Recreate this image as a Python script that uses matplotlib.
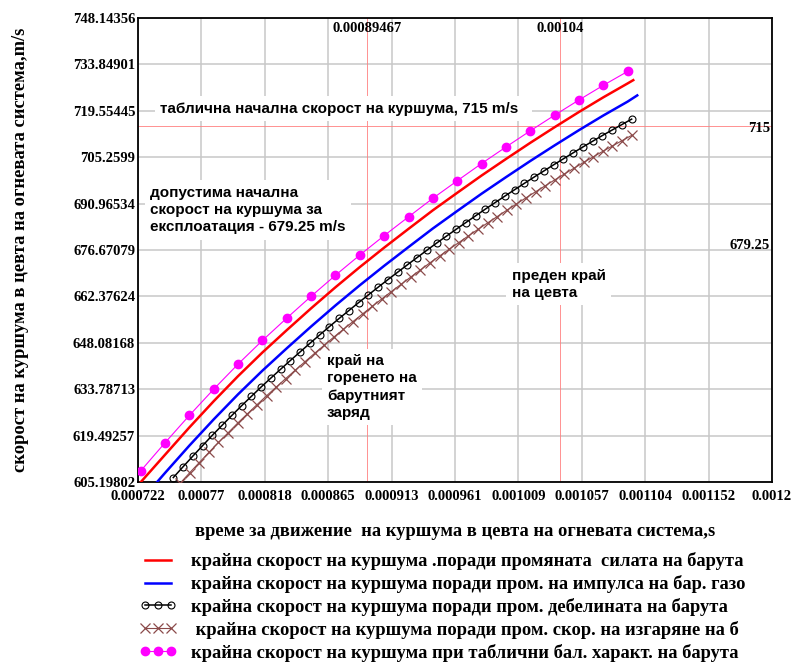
import matplotlib
matplotlib.use('Agg')
import matplotlib.pyplot as plt
import numpy as np

# time along the barrel, microseconds; velocity, m/s
t_table = [724.0, 742.4, 760.7, 779.1, 797.4, 815.8, 834.2, 852.5, 870.9, 889.2, 907.6,
           926.0, 944.3, 962.7, 981.0, 999.4, 1017.8, 1036.1, 1054.5, 1072.8, 1091.2]
v_table = [608.6, 617.3, 625.7, 633.8, 641.5, 648.8, 655.7, 662.4, 668.9, 675.1, 681.1,
           686.9, 692.6, 698.0, 703.3, 708.4, 713.4, 718.2, 722.9, 727.4, 731.7]

t_force = [723.5, 742.4, 760.7, 779.1, 797.4, 815.8, 834.2, 852.5, 870.9, 889.2, 907.6,
           926.0, 944.3, 962.7, 981.0, 999.4, 1017.8, 1036.1, 1054.5, 1072.8, 1091.2, 1095.4]
v_force = [604.9, 613.6, 622.0, 630.1, 637.8, 645.1, 652.0, 658.7, 665.2, 671.4, 677.4,
           683.2, 688.9, 694.3, 699.6, 704.7, 709.7, 714.5, 719.2, 723.7, 728.0, 729.0]

t_impulse = [736.0, 742.4, 760.7, 779.1, 797.4, 815.8, 834.2, 852.5, 870.9, 889.2, 907.6,
             926.0, 944.3, 962.7, 981.0, 999.4, 1017.8, 1036.1, 1054.5, 1072.8, 1091.2, 1098.4]
v_impulse = [605.0, 608.0, 616.4, 624.5, 632.2, 639.5, 646.4, 653.1, 659.6, 665.8, 671.8,
             677.6, 683.3, 688.7, 694.0, 699.1, 704.1, 708.9, 713.6, 718.1, 722.4, 724.3]

t_thick = [748.60, 755.95, 763.31, 770.66, 778.01, 785.37, 792.72, 800.07, 807.42, 814.78,
           822.13, 829.48, 836.84, 844.19, 851.54, 858.90, 866.25, 873.60, 880.95, 888.31,
           895.66, 903.01, 910.37, 917.72, 925.07, 932.43, 939.78, 947.13, 954.48, 961.84,
           969.19, 976.54, 983.90, 991.25, 998.60, 1005.96, 1013.31, 1020.66, 1028.01, 1035.37,
           1042.72, 1050.07, 1057.43, 1064.78, 1072.13, 1079.49, 1086.84, 1094.19]
v_thick = [606.56, 609.88, 613.16, 616.38, 619.58, 622.65, 625.69, 628.68, 631.56, 634.45,
           637.20, 639.92, 642.62, 645.26, 647.90, 650.49, 653.05, 655.57, 658.01, 660.46,
           662.83, 665.20, 667.54, 669.82, 672.10, 674.35, 676.59, 678.80, 680.92, 683.04,
           685.13, 687.21, 689.27, 691.28, 693.28, 695.25, 697.21, 699.14, 701.02, 702.92,
           704.76, 706.60, 708.41, 710.18, 711.94, 713.64, 715.32, 716.99]

t_burn = [753.70, 760.95, 768.19, 775.44, 782.68, 789.93, 797.17, 804.42, 811.66, 818.91,
          826.15, 833.40, 840.64, 847.89, 855.13, 862.38, 869.62, 876.87, 884.11, 891.36,
          898.60, 905.85, 913.09, 920.34, 927.58, 934.83, 942.07, 949.32, 956.56, 963.81,
          971.05, 978.30, 985.54, 992.79, 1000.03, 1007.28, 1014.52, 1021.77, 1029.01, 1036.26,
          1043.50, 1050.75, 1057.99, 1065.24, 1072.48, 1079.73, 1086.97, 1094.22]
v_burn = [604.79, 608.04, 611.19, 614.32, 617.38, 620.36, 623.35, 626.18, 629.00, 631.75,
          634.42, 637.08, 639.68, 642.26, 644.83, 647.33, 649.84, 652.24, 654.64, 657.00,
          659.31, 661.62, 663.88, 666.10, 668.32, 670.51, 672.71, 674.82, 676.89, 678.96,
          681.00, 683.03, 685.01, 686.96, 688.92, 690.84, 692.75, 694.62, 696.46, 698.29,
          700.09, 701.88, 703.65, 705.37, 707.08, 708.72, 710.37, 711.99]

x_ticklabels = ['0.000722', '0.00077', '0.000818', '0.000865', '0.000913', '0.000961',
                '0.001009', '0.001057', '0.001104', '0.001152', '0.0012']
y_ticklabels = ['605.19802', '619.49257', '633.78713', '648.08168', '662.37624', '676.67079',
                '690.96534', '705.2599', '719.55445', '733.84901', '748.14356']

t_burnout = 0.00089467   # end of powder burning
t_muzzle = 0.00104       # bullet leaves the barrel
v_table_ref = 715
v_allowed = 679.25

labels = ['крайна скорост на куршума .поради промяната  силата на барута',
          'крайна скорост на куршума поради пром. на импулса на бар. газо',
          'крайна скорост на куршума поради пром. дебелината на барута',
          ' крайна скорост на куршума поради пром. скор. на изгаряне на б',
          'крайна скорост на куршума при таблични бал. характ. на барута']

us = 1e-6
serif = ['Liberation Serif', 'DejaVu Serif']
sans = ['Liberation Sans', 'DejaVu Sans']

fig = plt.figure(figsize=(7.97, 6.63), dpi=100)
ax = fig.add_axes([138/797, 181/663, 634/797, 464/663])

l1, = ax.plot(np.array(t_force)*us, v_force, color='#ff0000', lw=1.8, zorder=4)
l2, = ax.plot(np.array(t_impulse)*us, v_impulse, color='#0000ff', lw=1.8, zorder=4)
l3, = ax.plot(np.array(t_thick)*us, v_thick, color='black', lw=1.1, marker='o', ms=5,
              mfc='none', mec='black', mew=0.8, zorder=4)
l4, = ax.plot(np.array(t_burn)*us, v_burn, color='#8b4a4a', lw=0.8, marker='x', ms=7,
              mec='#8b4a4a', mew=0.9, zorder=4)
l5, = ax.plot(np.array(t_table)*us, v_table, color='#ff00ff', lw=0.8, marker='o', ms=6,
              mfc='#ff00ff', mec='#ff00ff', zorder=5)

# reference lines
ax.axvline(t_burnout, color='#ff8080', lw=0.6, zorder=1)
ax.axvline(t_muzzle, color='#ff8080', lw=0.6, zorder=1)
ax.axhline(v_table_ref, color='#ff8080', lw=0.6, zorder=1)

xmin, xmax = 0.000722, 0.0012
ymin, ymax = float(y_ticklabels[0]), float(y_ticklabels[-1])
ax.set_xlim(xmin, xmax)
ax.set_ylim(ymin, ymax)
ax.set_xticks(np.linspace(xmin, xmax, len(x_ticklabels)))
ax.set_xticklabels(x_ticklabels)
ax.set_yticks([float(s) for s in y_ticklabels])
ax.set_yticklabels(y_ticklabels)
ax.tick_params(length=0, pad=6)
ax.tick_params(axis='y', pad=2)
for lab in ax.get_xticklabels() + ax.get_yticklabels():
    lab.set_family(serif)
    lab.set_fontweight('bold')
    lab.set_fontsize(10.5)

ax.grid(True, color='#c8c8c8', lw=1.1)
ax.set_axisbelow(True)
for s in ax.spines.values():
    s.set_linewidth(1.3)

# values of the reference lines
ax.text(t_burnout, ymax - 3.3, '0.00089467', ha='center', va='center',
        family=serif, fontweight='bold', fontsize=10.5)
ax.text(t_muzzle, ymax - 3.3, '0.00104', ha='center', va='center',
        family=serif, fontweight='bold', fontsize=10.5)
ax.text(xmax - 0.0000015, v_table_ref - 1.0, '715', ha='right', va='center',
        family=serif, fontweight='bold', fontsize=10.5)
ax.text(xmax - 0.0000015, v_allowed - 1.1, '679.25', ha='right', va='center',
        family=serif, fontweight='bold', fontsize=10.5)

box = dict(facecolor='white', edgecolor='none', boxstyle='square,pad=0.35')
ax.text(0.0007386, 720.2, 'таблична начална скорост на куршума, 715 m/s  ',
        ha='left', va='center', family=sans, fontweight='bold', fontsize=11,
        bbox=box, zorder=3)
ax.text(0.000731, 689.0, 'допустима начална\nскорост на куршума за\nексплоатация - 679.25 m/s',
        ha='left', va='center', family=sans, fontweight='bold', fontsize=11,
        linespacing=1.3, bbox=box, zorder=3)
ax.text(0.0008645, 634.5, 'край на\nгоренето на\nбарутният\nзаряд',
        ha='left', va='center', family=sans, fontweight='bold', fontsize=11,
        linespacing=1.3, bbox=box, zorder=3)
ax.text(0.0010037, 666.1, 'преден край\nна цевта',
        ha='left', va='center', family=sans, fontweight='bold', fontsize=11,
        linespacing=1.3, bbox=box, zorder=3)

fig.text(455/797, 1 - 531/663, 'време за движение  на куршума в цевта на огневата система,s',
         ha='center', va='center', family=serif, fontweight='bold', fontsize=13.3)
fig.text(21/797, 1 - 250/663, 'скорост на куршума в цевта на огневата система,m/s',
         ha='center', va='center', rotation=90, family=serif, fontweight='bold', fontsize=13.3)

leg = fig.legend([l1, l2, l3, l4, l5], labels, loc='upper left',
                 bbox_to_anchor=(138/797, 1 - 550.5/663), frameon=False, numpoints=3,
                 prop={'family': serif, 'weight': 'bold', 'size': 13.3},
                 handlelength=2.0, handletextpad=0.75, labelspacing=0.26,
                 borderpad=0.1, borderaxespad=0)

fig.savefig('out.png', dpi=100)
